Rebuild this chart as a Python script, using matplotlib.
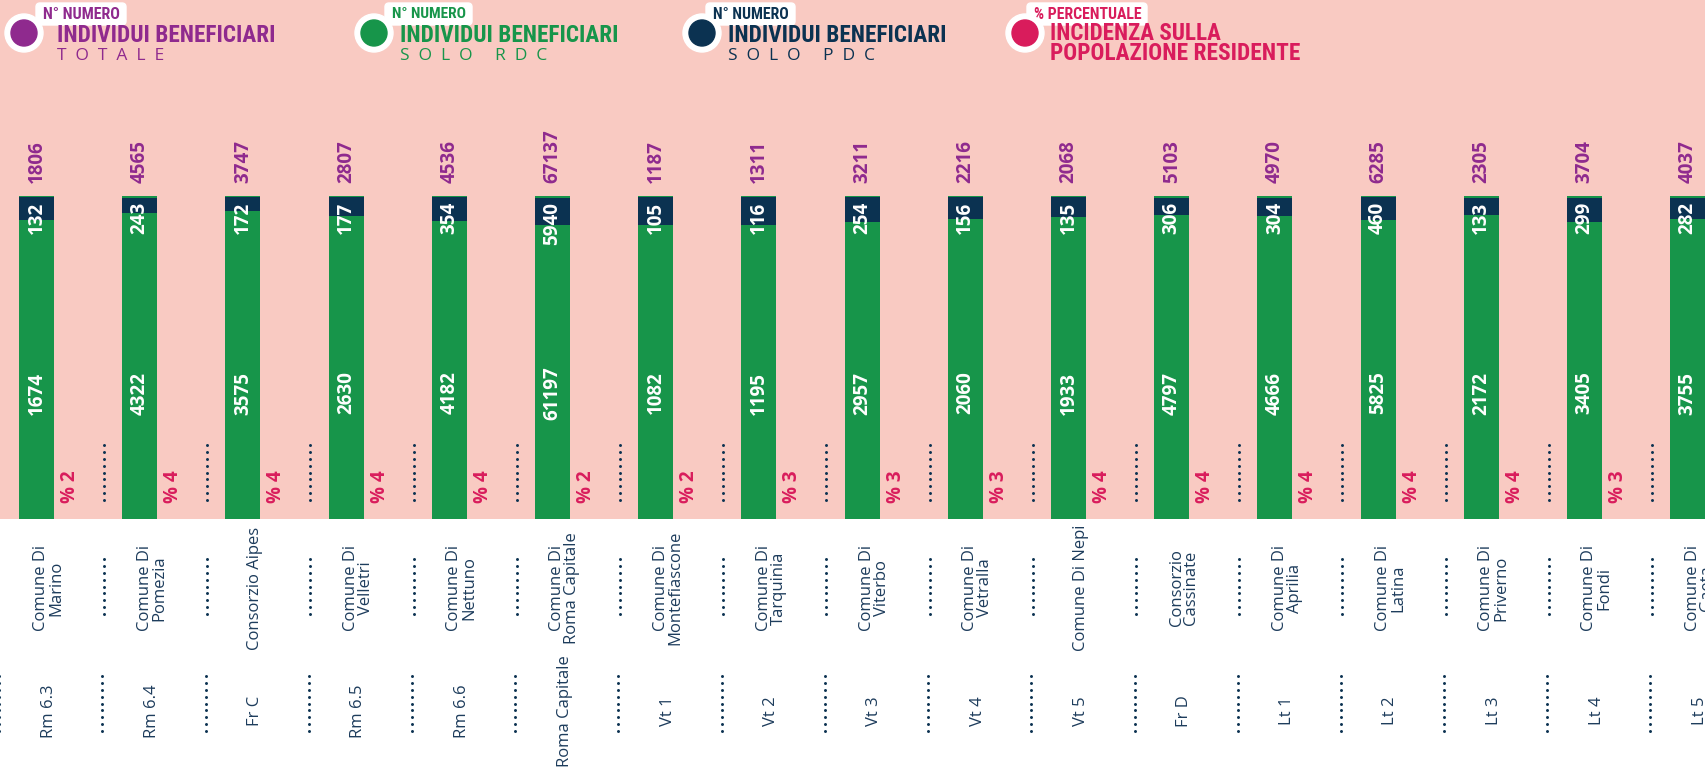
import numpy as np
import matplotlib.pyplot as plt
from matplotlib import font_manager
from matplotlib.patches import Circle, FancyBboxPatch

# ambiti / enti
names = [
    "Comune Di\nMarino", "Comune Di\nPomezia", "Consorzio Aipes", "Comune Di\nVelletri",
    "Comune Di\nNettuno", "Comune Di\nRoma Capitale", "Comune Di\nMontefiascone",
    "Comune Di\nTarquinia", "Comune Di\nViterbo", "Comune Di\nVetralla", "Comune Di Nepi",
    "Consorzio\nCassinate", "Comune Di\nAprilia", "Comune Di\nLatina", "Comune Di\nPriverno",
    "Comune Di\nFondi", "Comune Di\nGaeta",
]
codes = [
    "Rm 6.3", "Rm 6.4", "Fr C", "Rm 6.5", "Rm 6.6", "Roma Capitale", "Vt 1", "Vt 2",
    "Vt 3", "Vt 4", "Vt 5", "Fr D", "Lt 1", "Lt 2", "Lt 3", "Lt 4", "Lt 5",
]
totale = [1806, 4565, 3747, 2807, 4536, 67137, 1187, 1311, 3211, 2216, 2068,
          5103, 4970, 6285, 2305, 3704, 4037]
solo_rdc = [1674, 4322, 3575, 2630, 4182, 61197, 1082, 1195, 2957, 2060, 1933,
            4797, 4666, 5825, 2172, 3405, 3755]
solo_pdc = [132, 243, 172, 177, 354, 5940, 105, 116, 254, 156, 135,
            306, 304, 460, 133, 299, 282]
incidenza = [2, 4, 4, 4, 4, 2, 2, 3, 3, 3, 4, 4, 4, 4, 4, 3, None]

PINK = "#f9cac2"
GREEN = "#17954a"
NAVY = "#0b3251"
PURPLE = "#8f2a8e"
CRIMSON = "#d91c5c"
INK = "#1d3c5c"


def first_font(*families):
    have = {f.name for f in font_manager.fontManager.ttflist}
    return next(f for f in families if f in have)


BODY = first_font("Open Sans", "Noto Sans", "DejaVu Sans")
COND = first_font("Roboto Condensed", "Open Sans Condensed", "Liberation Sans Narrow",
                  "Roboto", "DejaVu Sans")

W, H = 1705, 772
fig = plt.figure(figsize=(W / 100, H / 100), dpi=100)
fig.patch.set_facecolor("white")

# fascia rosa con le barre (px: barre da 196 a 519)
band = 519
unit = band - 196
step, first = 103.2, 36.5
ax = fig.add_axes([0, 1 - band / H, 1, band / H])
ax.set_facecolor(PINK)
ax.set_xlim(-first / step, (W - first) / step)
ax.set_ylim(0, band / unit)
ax.set_xticks([])
ax.set_yticks([])
for s in ax.spines.values():
    s.set_visible(False)

x = np.arange(len(names))
tot = np.array(totale, dtype=float)
frac_rdc = np.array(solo_rdc) / tot
frac_pdc = np.array(solo_pdc) / tot
bw = 35 / step

ax.bar(x, frac_rdc + frac_pdc, width=bw, color=GREEN, linewidth=0)
ax.bar(x, frac_pdc - 1.5 / unit, bottom=frac_rdc, width=bw, color=NAVY, linewidth=0)

num = dict(rotation=90, ha="center", family=BODY, fontweight="bold", fontsize=13.5)
for i in x:
    ax.text(i, 1 + 13 / unit, str(totale[i]), va="bottom", color=PURPLE, **num)
    ax.text(i, 1 - 6 / unit, str(solo_pdc[i]), va="top", color="white", **num)
    ax.text(i, 0.39, str(solo_rdc[i]), va="center", color="white", **num)
    if incidenza[i] is not None:
        ax.text(i + 33.5 / step, 16 / unit, f"% {incidenza[i]}", va="bottom",
                color=CRIMSON, **num)

# etichette sotto la fascia
lab = dict(rotation=90, ha="center", va="center", family=BODY, fontsize=12,
           color=INK, linespacing=0.9)
for i in x:
    ax.text(i + 0.12, (band - 588) / unit, names[i], multialignment="center", **lab)
    ax.text(i + 0.12, (band - 711) / unit, codes[i], **lab)

# separatori a puntini
def dots(xpos, top_px, bot_px):
    ys = (band - np.linspace(top_px, bot_px, 9)) / unit
    ax.scatter(np.full(9, xpos), ys, s=4.5, color=NAVY, linewidths=0, clip_on=False)


for k in range(-1, len(names)):
    sx = k + 67.5 / step
    if k >= 0:
        dots(sx, 445, 500)
        dots(sx, 559, 614)
    dots(sx - 1.5 / step, 676, 731)

# legenda in alto
lg = fig.add_axes([0, 0, 1, 1])
lg.set_xlim(0, W)
lg.set_ylim(H, 0)
lg.axis("off")
renderer = fig.canvas.get_renderer()


def fit_text(xp, yp, s, width, size, **kw):
    t = lg.text(xp, yp, s, ha="left", va="center", fontsize=size, **kw)
    w = t.get_window_extent(renderer).width
    if w > width:
        t.set_fontsize(size * width / w)
    return t


items = [
    (24, PURPLE, "N° NUMERO", 36, 90, ["INDIVIDUI BENEFICIARI"], [217], 57,
     "T  O  T  A  L  E"),
    (374, GREEN, "N° NUMERO", 385, 87, ["INDIVIDUI BENEFICIARI"], [218], 400,
     "S  O  L  O     R  D  C"),
    (702, NAVY, "N° NUMERO", 706, 89, ["INDIVIDUI BENEFICIARI"], [218], 728,
     "S  O  L  O     P  D  C"),
    (1025, CRIMSON, "% PERCENTUALE", 1027, 120, ["INCIDENZA SULLA", "POPOLAZIONE RESIDENTE"],
     [171, 250], 1050, None),
]

for cx, col, tag, tx, tw, lines, widths, x0, sub in items:
    lg.add_patch(Circle((cx, 33), 19, color="white", zorder=2))
    lg.add_patch(Circle((cx, 33), 13, color=col, zorder=3))
    lg.add_patch(FancyBboxPatch((tx, 3), tw, 22, boxstyle="round,pad=0,rounding_size=4",
                                color="white", zorder=2))
    fit_text(tx + 7, 14.5, tag, tw - 13, 13, family=COND, fontweight="bold",
             color=col, zorder=4)
    if len(lines) == 1:
        fit_text(x0, 36, lines[0], widths[0], 18, family=COND, fontweight="bold",
                 color=col, zorder=4)
    else:
        for yy, line, w in zip([34, 54], lines, widths):
            fit_text(x0, yy, line, w, 18, family=COND, fontweight="bold",
                     color=col, zorder=4)
    if sub:
        lg.text(x0, 56.5, sub, ha="left", va="center", fontsize=12.5, family=BODY,
                color=col, zorder=4)

fig.savefig("out.png", dpi=100)
